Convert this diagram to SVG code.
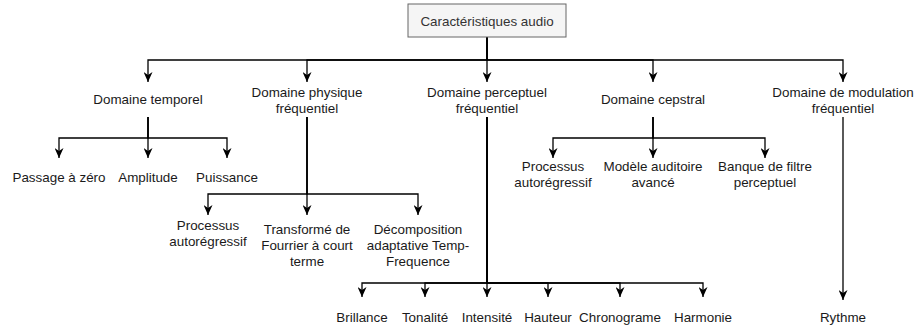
<svg xmlns="http://www.w3.org/2000/svg" width="916" height="331" viewBox="0 0 916 331">
<style>
  text { font-family: "Liberation Sans", Arial, sans-serif; font-size: 13.4px; fill: #1a1a1a; text-anchor: middle; }
  .edge { fill: none; stroke: #000; stroke-width: 1.3; marker-end: url(#arrow); }
  .root rect { fill: #f5f5f5; stroke: #666; stroke-width: 1; }
  .root text { fill: #333; }
</style>
<defs>
  <marker id="arrow" viewBox="0 0 10 10" refX="10" refY="5" markerUnits="userSpaceOnUse" markerWidth="10" markerHeight="9" orient="auto" preserveAspectRatio="none">
    <path d="M0,0 L10,5 L0,10 L3,5 z" fill="#000"/>
  </marker>
</defs>
<g id="connectors">
  <path class="edge" d="M487 37 V60 H148 V82"/>
  <path class="edge" d="M487 37 V60 H307 V82"/>
  <path class="edge" d="M487 37 V82"/>
  <path class="edge" d="M487 37 V60 H653 V82"/>
  <path class="edge" d="M487 37 V60 H843 V82"/>
  <path class="edge" d="M148 117 V138 H59 V158"/>
  <path class="edge" d="M148 117 V158"/>
  <path class="edge" d="M148 117 V138 H227 V158"/>
  <path class="edge" d="M307 117 V194 H208 V215"/>
  <path class="edge" d="M307 117 V215"/>
  <path class="edge" d="M307 117 V194 H418 V215"/>
  <path class="edge" d="M653 117 V138 H553 V158"/>
  <path class="edge" d="M653 117 V158"/>
  <path class="edge" d="M653 117 V138 H765 V158"/>
  <path class="edge" d="M487 117 V283 H362 V297"/>
  <path class="edge" d="M487 117 V283 H425 V297"/>
  <path class="edge" d="M487 117 V297"/>
  <path class="edge" d="M487 117 V283 H548 V297"/>
  <path class="edge" d="M487 117 V283 H620 V297"/>
  <path class="edge" d="M487 117 V283 H703 V297"/>
  <path class="edge" d="M843 117 V300"/>
</g>
<g id="root" class="root">
  <rect x="408" y="4" width="158" height="33"/>
  <text x="487" y="25.5">Caractéristiques audio</text>
</g>
<g id="temporel"><text x="148" y="104">Domaine temporel</text></g>
<g id="physique"><text x="307" y="96.5">Domaine physique</text><text x="307" y="112.5">fréquentiel</text></g>
<g id="perceptuel"><text x="487" y="96.5">Domaine perceptuel</text><text x="487" y="112.5">fréquentiel</text></g>
<g id="cepstral"><text x="653" y="104">Domaine cepstral</text></g>
<g id="modulation"><text x="843" y="96.5">Domaine de modulation</text><text x="843" y="112.5">fréquentiel</text></g>
<g id="passage"><text x="59" y="181.5">Passage à zéro</text></g>
<g id="amplitude"><text x="148" y="181.5">Amplitude</text></g>
<g id="puissance"><text x="227" y="181.5">Puissance</text></g>
<g id="processus1"><text x="208" y="230">Processus</text><text x="208" y="246">autorégressif</text></g>
<g id="stft"><text x="307" y="234">Transformé de</text><text x="307" y="250">Fourrier à court</text><text x="307" y="266">terme</text></g>
<g id="decomposition"><text x="418" y="234">Décomposition</text><text x="418" y="250">adaptative Temp-</text><text x="418" y="266">Frequence</text></g>
<g id="processus2"><text x="553" y="170.5">Processus</text><text x="553" y="186.5">autorégressif</text></g>
<g id="modele"><text x="653" y="170.5">Modèle auditoire</text><text x="653" y="186.5">avancé</text></g>
<g id="banque"><text x="765" y="170.5">Banque de filtre</text><text x="765" y="186.5">perceptuel</text></g>
<g id="brillance"><text x="362" y="322">Brillance</text></g>
<g id="tonalite"><text x="425" y="322">Tonalité</text></g>
<g id="intensite"><text x="487" y="322">Intensité</text></g>
<g id="hauteur"><text x="548" y="322">Hauteur</text></g>
<g id="chronograme"><text x="620" y="322">Chronograme</text></g>
<g id="harmonie"><text x="703" y="322">Harmonie</text></g>
<g id="rythme"><text x="843" y="322">Rythme</text></g>
</svg>
